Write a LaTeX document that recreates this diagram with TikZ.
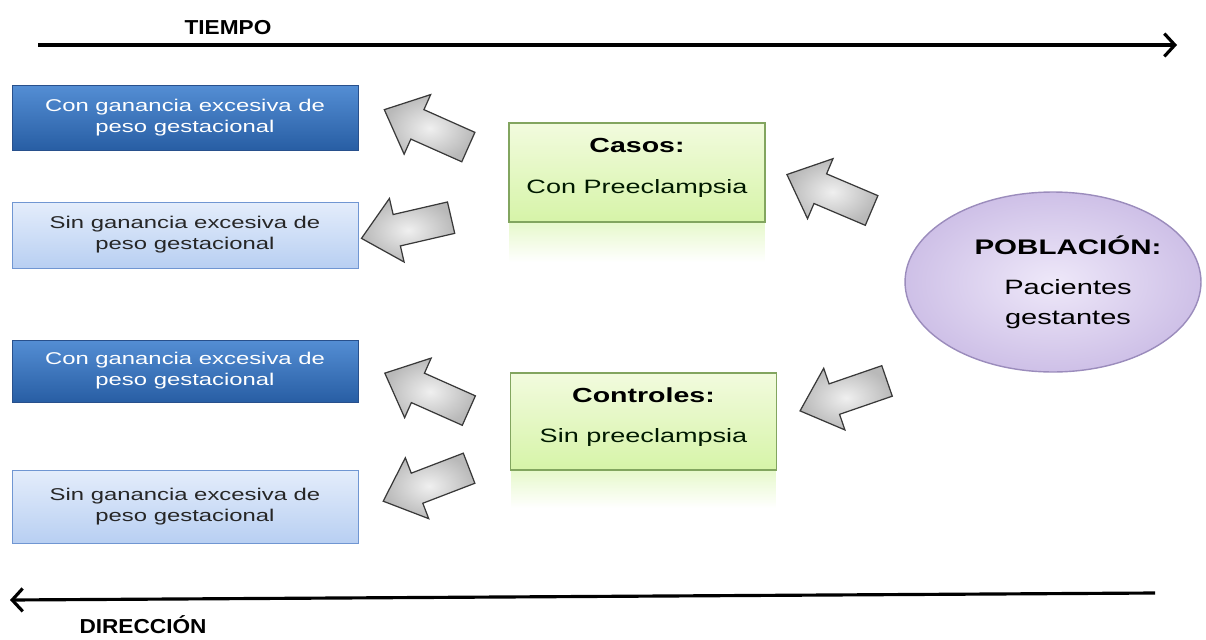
\documentclass[tikz,border=0pt]{standalone}
\usepackage{fontspec}
\setmainfont{Liberation Sans}[FakeStretch=1.4]
\newfontfamily\ejefont{Liberation Sans}[FakeStretch=1.12]
\usetikzlibrary{shapes.geometric,shapes.arrows,arrows.meta,fadings}

\definecolor{azulA}{RGB}{84,142,212}
\definecolor{azulB}{RGB}{40,94,164}
\definecolor{azulborde}{RGB}{40,80,140}
\definecolor{celesteA}{RGB}{228,237,251}
\definecolor{celesteB}{RGB}{184,207,242}
\definecolor{celesteborde}{RGB}{112,150,210}
\definecolor{verdeA}{RGB}{242,251,222}
\definecolor{verdeB}{RGB}{214,244,168}
\definecolor{verdeborde}{RGB}{130,165,95}
\definecolor{lilaA}{RGB}{238,232,249}
\definecolor{lilaB}{RGB}{206,192,231}
\definecolor{lilaborde}{RGB}{155,140,188}

\tikzset{
  caja/.style={rectangle, minimum width=6.92cm, inner sep=2pt, align=center,
    font=\fontsize{9.7}{12}\selectfont},
  cajaosc/.style={caja, draw=azulborde, top color=azulA, bottom color=azulB, text=white},
  cajacla/.style={caja, draw=celesteborde, top color=celesteA, bottom color=celesteB, text=black!85},
  verde/.style={rectangle, draw=verdeborde, line width=0.8pt, top color=verdeA, bottom color=verdeB},
  titulo/.style={font=\fontsize{11.6}{14}\selectfont\bfseries},
  subtit/.style={font=\fontsize{11}{13}\selectfont, text=black!75!green!40!black},
  flecha/.style={single arrow, draw=gray!45!black, line width=0.7pt,
    inner color=gray!12, outer color=gray!55, inner xsep=0pt, inner ysep=0.31cm,
    minimum height=1.84cm,
    single arrow head extend=0.33cm, single arrow tip angle=84},
  eje/.style={line width=1.8pt, -{Straight Barb[length=6pt,width=13pt,line width=1.8pt]}},
  rotulo/.style={font=\ejefont\fontsize{11.5}{13}\selectfont\bfseries},
}

\begin{document}
\begin{tikzpicture}[x=0.02cm,y=-0.02cm]
  \useasboundingbox (0,0) rectangle (1206,639);

  % ejes
  \node[rotulo] (tiempo) at (228,28) {TIEMPO};
  \coordinate (t0) at (38,45);
  \coordinate (t1) at (1177,45);
  \draw[eje] (t0) -- (t1);
  \coordinate (d0) at (1155,593);
  \coordinate (d1) at (10,600);
  \draw[eje] (d0) -- (d1);
  \node[rotulo] (direccion) at (143,625) {DIRECCIÓN};

  % cajas de resultado
  \node[cajaosc, minimum height=1.30cm] (con1) at (185,117.5) {Con ganancia excesiva de\\peso gestacional};
  \node[cajacla, minimum height=1.32cm] (sin1) at (185,235) {Sin ganancia excesiva de\\peso gestacional};
  \node[cajaosc, minimum height=1.24cm] (con2) at (185,371) {Con ganancia excesiva de\\peso gestacional};
  \node[cajacla, minimum height=1.46cm] (sin2) at (185,506.5) {Sin ganancia excesiva de\\peso gestacional};

  % casos y controles
  \fill[verdeB, opacity=0.6, path fading=south] (509,222) rectangle (765,262);
  \node[verde, minimum width=5.12cm, minimum height=1.98cm] (casos) at (637,172.5) {};
  \node[titulo] (casostit) at (637,145) {Casos:};
  \node[subtit] (casostxt) at (637,188) {Con Preeclampsia};

  \fill[verdeB, opacity=0.6, path fading=south] (511,470) rectangle (776,508);
  \node[verde, minimum width=5.32cm, minimum height=1.94cm] (contr) at (643.5,421.5) {};
  \node[titulo] (contrtit) at (643.5,395) {Controles:};
  \node[subtit] (contrtxt) at (643.5,437) {Sin preeclampsia};

  % poblacion
  \node[ellipse, draw=lilaborde, line width=0.8pt, inner color=lilaA, outer color=lilaB,
    minimum width=5.92cm, minimum height=3.6cm] (pob) at (1053,282) {};
  \node[font=\fontsize{12}{14}\selectfont\bfseries] (pobtit) at (1068,245) {POBLACIÓN:};
  \node[font=\fontsize{11.8}{17}\selectfont, align=center] (pobtxt) at (1068,304) {Pacientes\\gestantes};

  % flechas de bloque
  \node[flecha, rotate=157] (f1) at (837.5,196) {};
  \node[flecha, rotate=199] (f2) at (852,393) {};
  \node[flecha, rotate=156] (f3) at (434.5,132) {};
  \node[flecha, rotate=193] (f4) at (415,226) {};
  \node[flecha, rotate=156] (f5) at (435,395.5) {};
  \node[flecha, rotate=201] (f6) at (434.5,481.5) {};
\end{tikzpicture}
\end{document}
